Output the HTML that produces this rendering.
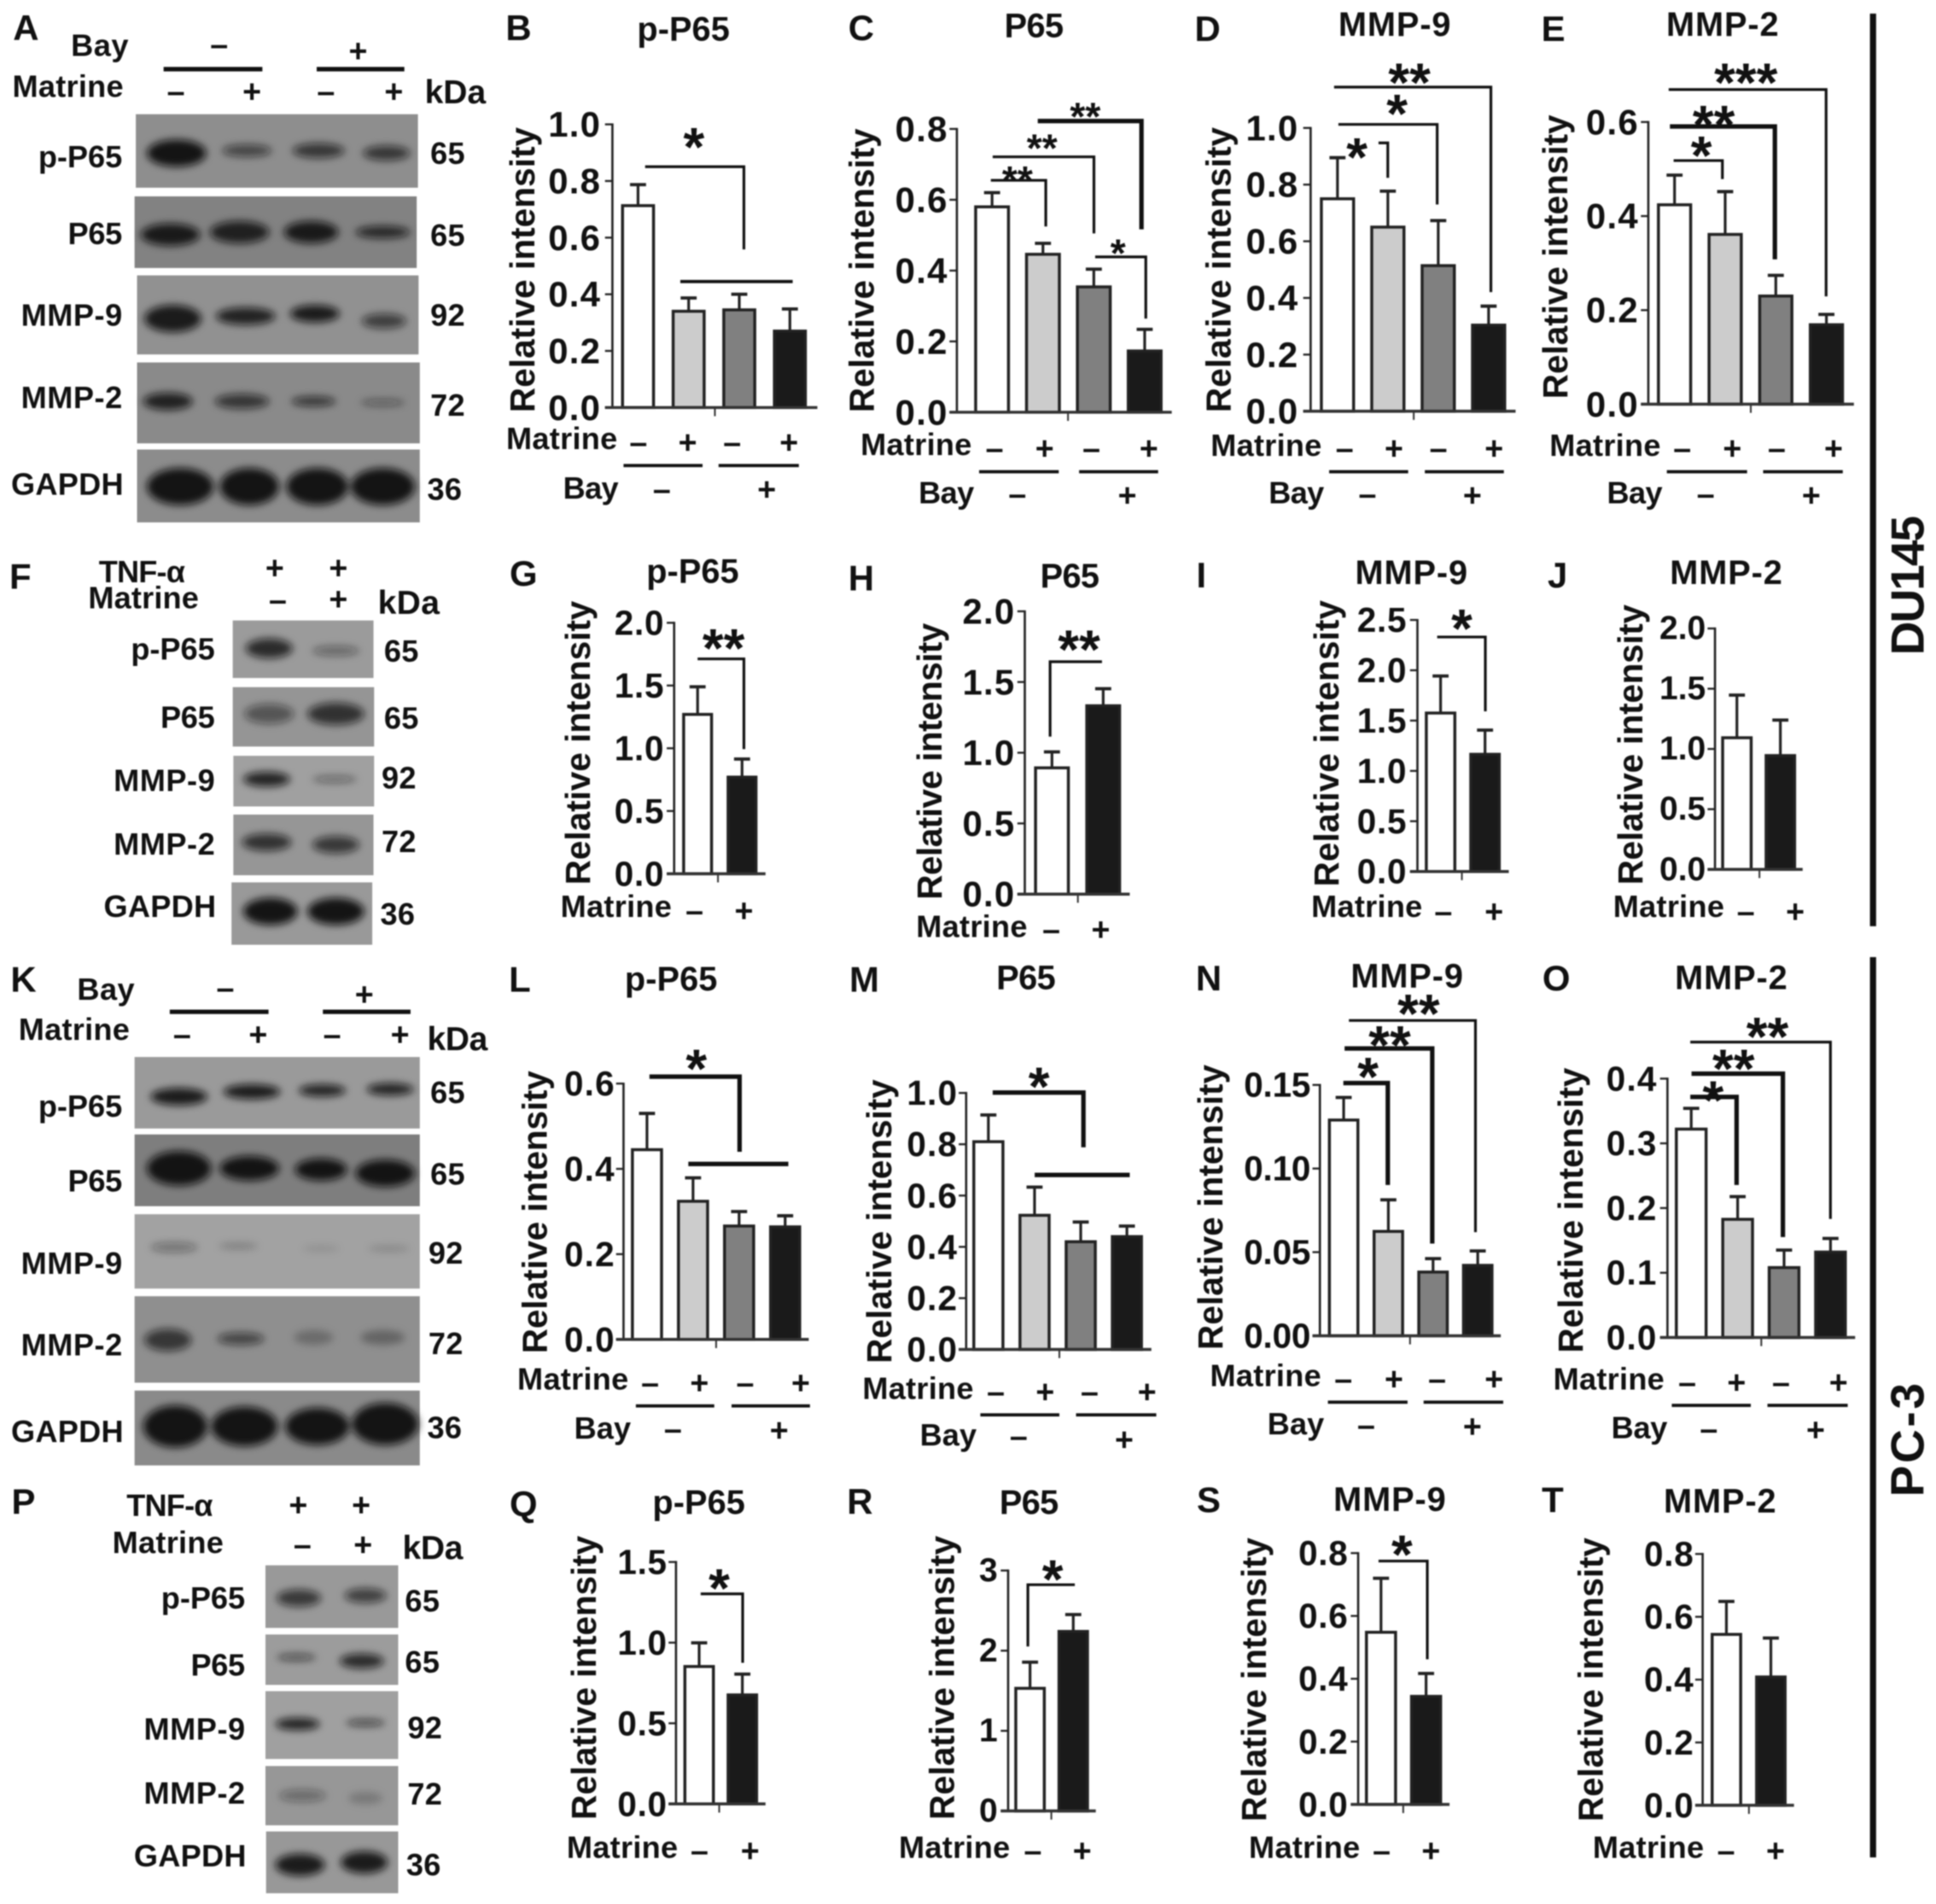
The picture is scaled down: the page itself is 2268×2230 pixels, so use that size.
<!DOCTYPE html>
<html lang="en">
<head>
<meta charset="utf-8">
<title>Matrine western blots and densitometry</title>
<style>
html,body{margin:0;padding:0;background:#fff}
svg{display:block;width:2268px;height:2230px;filter:blur(.7px)}
text{font-family:"Liberation Sans",sans-serif;font-weight:700;fill:#111;dominant-baseline:central}
.pl{font-size:29px}
.ti{font-size:27.5px;text-anchor:middle}
.m{font-size:25px}
.s{font-size:26px;text-anchor:middle}
.yl{font-size:28px;text-anchor:middle}
.bl{font-size:25px;text-anchor:end}
.n{font-size:25px}
.k{font-size:27px}
.st{font-size:44px;text-anchor:middle;dominant-baseline:auto}
.st2{font-size:32px;text-anchor:middle;dominant-baseline:auto}
.cell{font-size:38px;text-anchor:middle}
.br{fill:none;stroke:#111;stroke-width:2.2}
.brt{fill:none;stroke:#111;stroke-width:3.6}
.ln{stroke:#111;stroke-width:2.6}
.lnt{stroke:#111;stroke-width:3.6}
.bands{fill:#111;filter:url(#band-blur)}
</style>
</head>
<body>
<svg viewBox="0 0 1568 1541.73">
<defs><filter id="band-blur" x="-20%" y="-20%" width="140%" height="140%"><feGaussianBlur stdDeviation="3.2"/></filter></defs>

<g>
<text class="pl" x="21" y="22.6" text-anchor="middle">A</text>
<text class="m" x="57.5" y="36.7" textLength="46.5">Bay</text>
<text class="s" x="177.5" y="36">–</text>
<text class="s" x="290" y="41">+</text>
<line class="lnt" x1="132.5" x2="212.5" y1="56" y2="56"/>
<line class="lnt" x1="256.5" x2="327.5" y1="56" y2="56"/>
<text class="m" x="10" y="70" textLength="90">Matrine</text>
<text class="s" x="142.5" y="74">–</text>
<text class="s" x="204" y="74">+</text>
<text class="s" x="264" y="74">–</text>
<text class="s" x="319" y="74">+</text>
<text class="k" x="344" y="75" textLength="49.5">kDa</text>
<rect x="110" y="92.5" width="228.5" height="59.5" fill="#8e8e8e"/>
<rect x="109" y="159" width="228.5" height="58" fill="#828282"/>
<rect x="111" y="223" width="228" height="64" fill="#919191"/>
<rect x="111" y="293.5" width="229" height="65.5" fill="#8a8a8a"/>
<rect x="111" y="364" width="229" height="59" fill="#8c8c8c"/>
<g class="bands">
<ellipse cx="143" cy="124" rx="24" ry="11" opacity=".95"/>
<ellipse cx="200" cy="122" rx="20" ry="5" opacity=".6"/>
<ellipse cx="258" cy="122" rx="21" ry="6" opacity=".7"/>
<ellipse cx="313" cy="124" rx="19" ry="6" opacity=".7"/>
<ellipse cx="138" cy="190" rx="24" ry="9" opacity=".9"/>
<ellipse cx="194" cy="188" rx="24" ry="9" opacity=".85"/>
<ellipse cx="252" cy="188" rx="22" ry="9" opacity=".9"/>
<ellipse cx="310" cy="188" rx="22" ry="5" opacity=".8"/>
<ellipse cx="140" cy="258" rx="23" ry="11" opacity=".9"/>
<ellipse cx="199" cy="256" rx="24" ry="7" opacity=".85"/>
<ellipse cx="255" cy="254" rx="20" ry="7" opacity=".9"/>
<ellipse cx="311" cy="260" rx="18" ry="6" opacity=".65"/>
<ellipse cx="136" cy="325" rx="20" ry="7" opacity=".85"/>
<ellipse cx="196" cy="325" rx="22" ry="6" opacity=".7"/>
<ellipse cx="254" cy="325" rx="18" ry="4" opacity=".7"/>
<ellipse cx="310" cy="326" rx="18" ry="3" opacity=".4"/>
<ellipse cx="146" cy="394" rx="27" ry="15" opacity=".95"/>
<ellipse cx="202" cy="394" rx="24" ry="15" opacity=".95"/>
<ellipse cx="257" cy="394" rx="25" ry="15" opacity=".95"/>
<ellipse cx="310" cy="394" rx="26" ry="15" opacity=".95"/>
</g>
<text class="bl" x="99" y="127" textLength="68">p-P65</text>
<text class="bl" x="99" y="189" textLength="44">P65</text>
<text class="bl" x="99" y="255" textLength="82">MMP-9</text>
<text class="bl" x="99" y="322" textLength="82">MMP-2</text>
<text class="bl" x="100" y="392" textLength="91">GAPDH</text>
<text class="n" x="348.5" y="124" textLength="28">65</text>
<text class="n" x="348.5" y="190.5" textLength="28">65</text>
<text class="n" x="348.5" y="255" textLength="28">92</text>
<text class="n" x="348.5" y="328" textLength="28">72</text>
<text class="n" x="346" y="396" textLength="28">36</text>
</g>

<g>
<text class="pl" x="16.5" y="466.7" text-anchor="middle">F</text>
<text class="m" x="80" y="463" textLength="70">TNF-α</text>
<text class="m" x="71.5" y="484" textLength="89.5">Matrine</text>
<text class="s" x="222.5" y="459.8">+</text>
<text class="s" x="274" y="459.8">+</text>
<text class="s" x="225" y="485.8">–</text>
<text class="s" x="274" y="485">+</text>
<text class="k" x="306" y="488.6" textLength="50">kDa</text>
<rect x="188.5" y="502.4" width="114" height="46.6" fill="#9b9b9b"/>
<rect x="188.5" y="556.4" width="114.5" height="48.1" fill="#959595"/>
<rect x="189" y="612" width="114" height="41" fill="#a0a0a0"/>
<rect x="189" y="659.6" width="113.5" height="49.1" fill="#969696"/>
<rect x="187.5" y="714.5" width="114" height="50.5" fill="#999"/>
<g class="bands">
<ellipse cx="218" cy="525" rx="19" ry="8" opacity=".8"/>
<ellipse cx="272" cy="527" rx="19" ry="4" opacity=".4"/>
<ellipse cx="218" cy="578" rx="20" ry="8" opacity=".5"/>
<ellipse cx="272" cy="578" rx="23" ry="9" opacity=".75"/>
<ellipse cx="216" cy="631" rx="19" ry="6" opacity=".85"/>
<ellipse cx="271" cy="631" rx="18" ry="3" opacity=".4"/>
<ellipse cx="216" cy="682" rx="20" ry="7" opacity=".75"/>
<ellipse cx="272" cy="684" rx="19" ry="7" opacity=".7"/>
<ellipse cx="219" cy="738" rx="22" ry="11" opacity=".95"/>
<ellipse cx="272" cy="738" rx="23" ry="11" opacity=".95"/>
</g>
<text class="bl" x="174" y="525.5" textLength="68">p-P65</text>
<text class="bl" x="174" y="580.8" textLength="44">P65</text>
<text class="bl" x="174" y="632" textLength="82">MMP-9</text>
<text class="bl" x="174" y="683.3" textLength="82">MMP-2</text>
<text class="bl" x="175" y="734" textLength="91">GAPDH</text>
<text class="n" x="311" y="527" textLength="28">65</text>
<text class="n" x="311" y="581.5" textLength="28">65</text>
<text class="n" x="309" y="630" textLength="28">92</text>
<text class="n" x="309" y="681.5" textLength="28">72</text>
<text class="n" x="308" y="740" textLength="28">36</text>
</g>

<g>
<text class="pl" x="19" y="793" text-anchor="middle">K</text>
<text class="m" x="62.5" y="800.8" textLength="46.5">Bay</text>
<text class="s" x="182.5" y="800">–</text>
<text class="s" x="295" y="805">+</text>
<line class="lnt" x1="137.5" x2="217.5" y1="819.3" y2="819.3"/>
<line class="lnt" x1="261.5" x2="332.5" y1="819.3" y2="819.3"/>
<text class="m" x="15" y="833.6" textLength="90">Matrine</text>
<text class="s" x="147.5" y="837.6">–</text>
<text class="s" x="209" y="837.6">+</text>
<text class="s" x="269" y="837.6">–</text>
<text class="s" x="324" y="837.6">+</text>
<text class="k" x="346" y="841.7" textLength="49">kDa</text>
<rect x="109" y="855.9" width="231" height="57.9" fill="#9a9a9a"/>
<rect x="109" y="918.6" width="231" height="58.1" fill="#7e7e7e"/>
<rect x="109" y="983.2" width="231" height="60.2" fill="#a2a2a2"/>
<rect x="109" y="1049.6" width="231" height="70" fill="#8f8f8f"/>
<rect x="109" y="1126" width="231" height="60.6" fill="#8a8a8a"/>
<g class="bands">
<ellipse cx="145" cy="888" rx="23" ry="7" opacity=".9"/>
<ellipse cx="204" cy="884" rx="23" ry="6" opacity=".9"/>
<ellipse cx="261" cy="883" rx="19" ry="5" opacity=".85"/>
<ellipse cx="316" cy="882" rx="19" ry="5" opacity=".85"/>
<ellipse cx="145" cy="946" rx="26" ry="14" opacity=".95"/>
<ellipse cx="202" cy="946" rx="24" ry="10" opacity=".95"/>
<ellipse cx="260" cy="947" rx="21" ry="9" opacity=".95"/>
<ellipse cx="312" cy="950" rx="24" ry="11" opacity=".95"/>
<ellipse cx="141" cy="1010" rx="19" ry="4" opacity=".35"/>
<ellipse cx="193" cy="1009" rx="16" ry="3" opacity=".2"/>
<ellipse cx="260" cy="1011" rx="15" ry="3" opacity=".1"/>
<ellipse cx="315" cy="1011" rx="17" ry="3" opacity=".15"/>
<ellipse cx="136" cy="1085" rx="19" ry="9" opacity=".7"/>
<ellipse cx="195" cy="1084" rx="19" ry="5" opacity=".6"/>
<ellipse cx="254" cy="1083" rx="16" ry="6" opacity=".25"/>
<ellipse cx="310" cy="1083" rx="18" ry="6" opacity=".3"/>
<ellipse cx="142" cy="1155" rx="26" ry="17" opacity=".95"/>
<ellipse cx="198" cy="1155" rx="27" ry="16" opacity=".95"/>
<ellipse cx="257" cy="1155" rx="26" ry="15" opacity=".95"/>
<ellipse cx="312" cy="1153" rx="27" ry="17" opacity=".95"/>
</g>
<text class="bl" x="99" y="895.5" textLength="68">p-P65</text>
<text class="bl" x="99" y="956" textLength="44">P65</text>
<text class="bl" x="99" y="1023" textLength="82">MMP-9</text>
<text class="bl" x="99" y="1089" textLength="82">MMP-2</text>
<text class="bl" x="100" y="1159" textLength="91">GAPDH</text>
<text class="n" x="348.5" y="884.7" textLength="28">65</text>
<text class="n" x="348.5" y="950.6" textLength="28">65</text>
<text class="n" x="347" y="1014.6" textLength="28">92</text>
<text class="n" x="347" y="1087.8" textLength="28">72</text>
<text class="n" x="346" y="1155.9" textLength="28">36</text>
</g>

<g>
<text class="pl" x="19" y="1215.7" text-anchor="middle">P</text>
<text class="m" x="102.5" y="1219" textLength="70">TNF-α</text>
<text class="m" x="91" y="1249" textLength="90">Matrine</text>
<text class="s" x="241.5" y="1218.5">+</text>
<text class="s" x="292.5" y="1218.5">+</text>
<text class="s" x="245" y="1250.7">–</text>
<text class="s" x="294" y="1250.7">+</text>
<text class="k" x="326" y="1253.7" textLength="49">kDa</text>
<rect x="215" y="1267.5" width="107.5" height="50.7" fill="#999"/>
<rect x="215" y="1323.5" width="107.5" height="40.8" fill="#9c9c9c"/>
<rect x="215" y="1369.4" width="107.5" height="54.9" fill="#a0a0a0"/>
<rect x="215" y="1430" width="107.5" height="48" fill="#979797"/>
<rect x="215.5" y="1483" width="107" height="50" fill="#989898"/>
<g class="bands">
<ellipse cx="242" cy="1294" rx="18" ry="7" opacity=".7"/>
<ellipse cx="296" cy="1292" rx="17" ry="6" opacity=".65"/>
<ellipse cx="240" cy="1342" rx="16" ry="3" opacity=".55"/>
<ellipse cx="293" cy="1345" rx="18" ry="6" opacity=".8"/>
<ellipse cx="241" cy="1396" rx="18" ry="5" opacity=".85"/>
<ellipse cx="296" cy="1395" rx="16" ry="3" opacity=".6"/>
<ellipse cx="245" cy="1454" rx="19" ry="5" opacity=".35"/>
<ellipse cx="296" cy="1456" rx="14" ry="5" opacity=".2"/>
<ellipse cx="243" cy="1510" rx="20" ry="9" opacity=".9"/>
<ellipse cx="295" cy="1508" rx="19" ry="9" opacity=".9"/>
</g>
<text class="bl" x="198.5" y="1294" textLength="68">p-P65</text>
<text class="bl" x="198.5" y="1348.2" textLength="44">P65</text>
<text class="bl" x="198.5" y="1400" textLength="82">MMP-9</text>
<text class="bl" x="198.5" y="1452" textLength="82">MMP-2</text>
<text class="bl" x="199.5" y="1502.6" textLength="91">GAPDH</text>
<text class="n" x="328" y="1296.4" textLength="28">65</text>
<text class="n" x="328" y="1345.9" textLength="28">65</text>
<text class="n" x="330" y="1399" textLength="28">92</text>
<text class="n" x="330" y="1452.4" textLength="28">72</text>
<text class="n" x="329" y="1510" textLength="28">36</text>
</g>

<!-- Bar panels: axes, bars and tick labels are drawn by the script into these groups -->
<g id="chart-b"></g>
<g id="chart-c"></g>
<g id="chart-d"></g>
<g id="chart-e"></g>
<g id="chart-g"></g>
<g id="chart-h"></g>
<g id="chart-i"></g>
<g id="chart-j"></g>
<g id="chart-l"></g>
<g id="chart-m"></g>
<g id="chart-n"></g>
<g id="chart-o"></g>
<g id="chart-q"></g>
<g id="chart-r"></g>
<g id="chart-s"></g>
<g id="chart-t"></g>

<g>
<text class="pl" x="420" y="22.6" text-anchor="middle">B</text>
<text class="ti" x="553.5" y="24" textLength="75">p-P65</text>
<text class="yl" x="423" y="218.5" textLength="231" transform="rotate(-90 423 218.5)">Relative intensity</text>
<text class="m" x="410" y="355" textLength="90">Matrine</text>
<text class="s" x="517" y="358">–</text>
<text class="s" x="557" y="358">+</text>
<text class="s" x="593" y="358">–</text>
<text class="s" x="639" y="358">+</text>
<line class="ln" x1="505" x2="569" y1="377" y2="377"/>
<line class="ln" x1="582" x2="647" y1="377" y2="377"/>
<text class="m" x="456" y="395" textLength="45">Bay</text>
<text class="s" x="536" y="396">–</text>
<text class="s" x="621" y="396">+</text>
<path class="br" d="M522.5 135H602.5V202"/>
<line class="ln" x1="551" x2="642" y1="228" y2="228"/>
<text class="st" x="562" y="134">*</text>
</g>

<g>
<text class="pl" x="697.5" y="22.6" text-anchor="middle">C</text>
<text class="ti" x="837.5" y="21" textLength="48">P65</text>
<text class="yl" x="698" y="219" textLength="230" transform="rotate(-90 698 219)">Relative intensity</text>
<text class="m" x="697" y="360" textLength="90">Matrine</text>
<text class="s" x="805.5" y="363">–</text>
<text class="s" x="846" y="363">+</text>
<text class="s" x="884" y="363">–</text>
<text class="s" x="930.5" y="363">+</text>
<line class="ln" x1="793" x2="857.5" y1="382" y2="382"/>
<line class="ln" x1="874" x2="938" y1="382" y2="382"/>
<text class="m" x="744" y="399" textLength="45">Bay</text>
<text class="s" x="824" y="400">–</text>
<text class="s" x="913" y="401">+</text>
<path class="br" d="M802.5 146H847V183.4"/>
<path class="br" d="M804 127H886V189"/>
<path class="brt" d="M840.5 98H924.5V185.7"/>
<path class="br" d="M887 208H928V258"/>
<text class="st2" x="824" y="157">**</text>
<text class="st2" x="844" y="131">**</text>
<text class="st2" x="879" y="105.5">**</text>
<text class="st2" x="905.5" y="216">*</text>
</g>

<g>
<text class="pl" x="978" y="23" text-anchor="middle">D</text>
<text class="ti" x="1129.5" y="20" textLength="91">MMP-9</text>
<text class="yl" x="987" y="218.5" textLength="231" transform="rotate(-90 987 218.5)">Relative intensity</text>
<text class="m" x="980.5" y="360.6" textLength="90">Matrine</text>
<text class="s" x="1089" y="363">–</text>
<text class="s" x="1129" y="363">+</text>
<text class="s" x="1165" y="363">–</text>
<text class="s" x="1210" y="363">+</text>
<line class="ln" x1="1076.5" x2="1140.5" y1="382" y2="382"/>
<line class="ln" x1="1154" x2="1218" y1="382" y2="382"/>
<text class="m" x="1027.5" y="399" textLength="45">Bay</text>
<text class="s" x="1107.5" y="400">–</text>
<text class="s" x="1192.5" y="401">+</text>
<path class="br" d="M1080.5 70.5H1207.5V236.5"/>
<path class="br" d="M1084 100.7H1164V165.6"/>
<path class="br" d="M1116.5 115.7H1124V144"/>
<text class="st" x="1141.5" y="82">**</text>
<text class="st" x="1131.5" y="107">*</text>
<text class="st" x="1099" y="142.5">*</text>
</g>

<g>
<text class="pl" x="1258" y="23" text-anchor="middle">E</text>
<text class="ti" x="1395" y="20" textLength="91">MMP-2</text>
<text class="yl" x="1259.5" y="208" textLength="230" transform="rotate(-90 1259.5 208)">Relative intensity</text>
<text class="m" x="1255" y="360.6" textLength="90">Matrine</text>
<text class="s" x="1362.5" y="363">–</text>
<text class="s" x="1403" y="363">+</text>
<text class="s" x="1439" y="363">–</text>
<text class="s" x="1485" y="363">+</text>
<line class="ln" x1="1350" x2="1415" y1="382" y2="382"/>
<line class="ln" x1="1428" x2="1492.5" y1="382" y2="382"/>
<text class="m" x="1301.5" y="399" textLength="45">Bay</text>
<text class="s" x="1381.5" y="400">–</text>
<text class="s" x="1467" y="401">+</text>
<path class="br" d="M1351.5 72.5H1479V240"/>
<path class="brt" d="M1352.5 102.4H1437.5V210"/>
<path class="br" d="M1355.5 130H1395V145"/>
<text class="st" x="1414" y="82">***</text>
<text class="st" x="1388" y="116">**</text>
<text class="st" x="1378" y="141">*</text>
</g>

<g>
<text class="pl" x="424" y="464.4" text-anchor="middle">G</text>
<text class="ti" x="561" y="463" textLength="75">p-P65</text>
<text class="yl" x="468" y="601.5" textLength="230" transform="rotate(-90 468 601.5)">Relative intensity</text>
<text class="m" x="454" y="734" textLength="90">Matrine</text>
<text class="s" x="562.5" y="737.5">–</text>
<text class="s" x="602.5" y="737.5">+</text>
<path class="br" d="M565 533.5H602.5V606.6"/>
<text class="st" x="586" y="540">**</text>
</g>

<g>
<text class="pl" x="697.5" y="467.9" text-anchor="middle">H</text>
<text class="ti" x="866.5" y="466.7" textLength="48">P65</text>
<text class="yl" x="753" y="616.5" textLength="224" transform="rotate(-90 753 616.5)">Relative intensity</text>
<text class="m" x="742" y="750" textLength="90">Matrine</text>
<text class="s" x="851.5" y="752.5">–</text>
<text class="s" x="891.5" y="752.5">+</text>
<path class="br" d="M850.5 596.5V535.8H892.5"/>
<text class="st" x="874" y="541">**</text>
</g>

<g>
<text class="pl" x="973" y="465.5" text-anchor="middle">I</text>
<text class="ti" x="1143" y="464" textLength="91">MMP-9</text>
<text class="yl" x="1074.5" y="602" textLength="232" transform="rotate(-90 1074.5 602)">Relative intensity</text>
<text class="m" x="1062" y="734" textLength="90">Matrine</text>
<text class="s" x="1169" y="738">–</text>
<text class="s" x="1210" y="738">+</text>
<path class="br" d="M1164 515.8H1203V576"/>
<text class="st" x="1184" y="524">*</text>
</g>

<g>
<text class="pl" x="1261.5" y="465.5" text-anchor="middle">J</text>
<text class="ti" x="1398" y="464" textLength="91">MMP-2</text>
<text class="yl" x="1320.5" y="603" textLength="227" transform="rotate(-90 1320.5 603)">Relative intensity</text>
<text class="m" x="1306.5" y="734" textLength="90">Matrine</text>
<text class="s" x="1414" y="738">–</text>
<text class="s" x="1454" y="738">+</text>
</g>

<g>
<text class="pl" x="421" y="793" text-anchor="middle">L</text>
<text class="ti" x="543.5" y="793" textLength="75">p-P65</text>
<text class="yl" x="433" y="981.5" textLength="229" transform="rotate(-90 433 981.5)">Relative intensity</text>
<text class="m" x="419" y="1116.6" textLength="90">Matrine</text>
<text class="s" x="526.5" y="1119.6">–</text>
<text class="s" x="566.5" y="1119.6">+</text>
<text class="s" x="603.5" y="1119.6">–</text>
<text class="s" x="648.5" y="1119.6">+</text>
<line class="ln" x1="515" x2="578.5" y1="1138.4" y2="1138.4"/>
<line class="ln" x1="592.5" x2="656" y1="1138.4" y2="1138.4"/>
<text class="m" x="465" y="1156.4" textLength="46">Bay</text>
<text class="s" x="545" y="1157">–</text>
<text class="s" x="631" y="1158">+</text>
<path class="brt" d="M526 871.8H599V932.6"/>
<line class="lnt" x1="557.5" x2="638.5" y1="942.5" y2="942.5"/>
<text class="st" x="564" y="880.5">*</text>
</g>

<g>
<text class="pl" x="700" y="793" text-anchor="middle">M</text>
<text class="ti" x="831" y="791.9" textLength="48">P65</text>
<text class="yl" x="712" y="989" textLength="230" transform="rotate(-90 712 989)">Relative intensity</text>
<text class="m" x="698.5" y="1124" textLength="90">Matrine</text>
<text class="s" x="806.5" y="1127">–</text>
<text class="s" x="846.5" y="1127">+</text>
<text class="s" x="882.5" y="1127">–</text>
<text class="s" x="929" y="1127">+</text>
<line class="ln" x1="794" x2="858" y1="1145.7" y2="1145.7"/>
<line class="ln" x1="871.5" x2="936.5" y1="1145.7" y2="1145.7"/>
<text class="m" x="745" y="1161.8" textLength="46">Bay</text>
<text class="s" x="825" y="1163">–</text>
<text class="s" x="910.5" y="1165.8">+</text>
<path class="brt" d="M804 884.7H877.5V929"/>
<line class="lnt" x1="838" x2="915" y1="951.4" y2="951.4"/>
<text class="st" x="841.5" y="895">*</text>
</g>

<g>
<text class="pl" x="979" y="791.9" text-anchor="middle">N</text>
<text class="ti" x="1139.5" y="790.5" textLength="91">MMP-9</text>
<text class="yl" x="980.5" y="977.5" textLength="231" transform="rotate(-90 980.5 977.5)">Relative intensity</text>
<text class="m" x="980" y="1113.9" textLength="90">Matrine</text>
<text class="s" x="1088" y="1116.6">–</text>
<text class="s" x="1129" y="1116.6">+</text>
<text class="s" x="1164" y="1116.6">–</text>
<text class="s" x="1210" y="1116.6">+</text>
<line class="ln" x1="1075.5" x2="1140" y1="1135.4" y2="1135.4"/>
<line class="ln" x1="1153" x2="1217.5" y1="1135.4" y2="1135.4"/>
<text class="m" x="1026.5" y="1153" textLength="46">Bay</text>
<text class="s" x="1106.5" y="1154">–</text>
<text class="s" x="1192.5" y="1155">+</text>
<path class="br" d="M1092.5 826.3H1195V997.7"/>
<path class="brt" d="M1089 849H1160V1007"/>
<path class="brt" d="M1088 877H1124V959.5"/>
<text class="st" x="1149" y="836">**</text>
<text class="st" x="1125.5" y="861.5">**</text>
<text class="st" x="1108" y="887">*</text>
</g>

<g>
<text class="pl" x="1260.5" y="791.9" text-anchor="middle">O</text>
<text class="ti" x="1402" y="791.9" textLength="91">MMP-2</text>
<text class="yl" x="1272" y="980" textLength="231" transform="rotate(-90 1272 980)">Relative intensity</text>
<text class="m" x="1258" y="1116.6" textLength="90">Matrine</text>
<text class="s" x="1366.5" y="1119.3">–</text>
<text class="s" x="1406.5" y="1119.3">+</text>
<text class="s" x="1442.5" y="1119.3">–</text>
<text class="s" x="1489" y="1119.3">+</text>
<line class="ln" x1="1354" x2="1418" y1="1138" y2="1138"/>
<line class="ln" x1="1431.5" x2="1496.5" y1="1138" y2="1138"/>
<text class="m" x="1305" y="1155.9" textLength="45.5">Bay</text>
<text class="s" x="1384" y="1157">–</text>
<text class="s" x="1470.5" y="1157.8">+</text>
<path class="br" d="M1369 843.8H1482.5V987"/>
<path class="brt" d="M1370 869.4H1444V1001.7"/>
<path class="brt" d="M1369 888.2H1406.5V959.5"/>
<text class="st" x="1431.5" y="854.5">**</text>
<text class="st" x="1404" y="880.5">**</text>
<text class="st" x="1387.5" y="906">*</text>
</g>

<g>
<text class="pl" x="424" y="1218" text-anchor="middle">Q</text>
<text class="ti" x="566" y="1216.8" textLength="75">p-P65</text>
<text class="yl" x="473" y="1358.5" textLength="230" transform="rotate(-90 473 1358.5)">Relative intensity</text>
<text class="m" x="459" y="1495.7" textLength="90">Matrine</text>
<text class="s" x="566.5" y="1498.5">–</text>
<text class="s" x="607.5" y="1498.5">+</text>
<path class="br" d="M567.5 1290.6H601.5V1346.4"/>
<text class="st" x="582.5" y="1301">*</text>
</g>

<g>
<text class="pl" x="696.5" y="1215.7" text-anchor="middle">R</text>
<text class="ti" x="833.5" y="1216.8" textLength="48">P65</text>
<text class="yl" x="763" y="1358.5" textLength="230" transform="rotate(-90 763 1358.5)">Relative intensity</text>
<text class="m" x="728" y="1495.7" textLength="90">Matrine</text>
<text class="s" x="836.5" y="1498.5">–</text>
<text class="s" x="876.5" y="1498.5">+</text>
<path class="br" d="M832.5 1333.2V1283.2H870.5"/>
<text class="st" x="852.5" y="1294">*</text>
</g>

<g>
<text class="pl" x="979" y="1214.5" text-anchor="middle">S</text>
<text class="ti" x="1125.5" y="1214.5" textLength="91">MMP-9</text>
<text class="yl" x="1015.5" y="1360" textLength="230" transform="rotate(-90 1015.5 1360)">Relative intensity</text>
<text class="m" x="1011.5" y="1495.7" textLength="90">Matrine</text>
<text class="s" x="1119" y="1498.5">–</text>
<text class="s" x="1159" y="1498.5">+</text>
<path class="br" d="M1116.5 1264H1156V1343.6"/>
<text class="st" x="1135.5" y="1274">*</text>
</g>

<g>
<text class="pl" x="1257.5" y="1214.5" text-anchor="middle">T</text>
<text class="ti" x="1393" y="1215.7" textLength="91">MMP-2</text>
<text class="yl" x="1288.5" y="1360" textLength="230" transform="rotate(-90 1288.5 1360)">Relative intensity</text>
<text class="m" x="1290" y="1495.7" textLength="90">Matrine</text>
<text class="s" x="1398" y="1498.5">–</text>
<text class="s" x="1438" y="1498.5">+</text>
</g>

<g>
<rect x="1514.5" y="11" width="5" height="739" fill="#111"/>
<rect x="1514.5" y="775" width="5" height="729" fill="#111"/>
<text class="cell" x="1545" y="474" textLength="113" transform="rotate(-90 1545 474)">DU145</text>
<text class="cell" x="1545" y="1166" textLength="92" transform="rotate(-90 1545 1166)">PC-3</text>
</g>
</svg>

<script>
const groupCategories = ['Bay- Matrine-', 'Bay- Matrine+', 'Bay+ Matrine-', 'Bay+ Matrine+'];
const pairCategories = ['Matrine-', 'Matrine+'];

const bValues = [0.713, 0.34, 0.345, 0.27];
const bErrors = [0.074, 0.047, 0.055, 0.078];
const bTicks = ['0.0', '0.2', '0.4', '0.6', '0.8', '1.0'];

const cValues = [0.58, 0.446, 0.354, 0.173];
const cErrors = [0.04, 0.031, 0.05, 0.061];
const cTicks = ['0.0', '0.2', '0.4', '0.6', '0.8'];

const dValues = [0.75, 0.65, 0.514, 0.304];
const dErrors = [0.145, 0.127, 0.159, 0.067];
const dTicks = ['0.0', '0.2', '0.4', '0.6', '0.8', '1.0'];

const eValues = [0.424, 0.361, 0.23, 0.169];
const eErrors = [0.063, 0.091, 0.044, 0.022];
const eTicks = ['0.0', '0.2', '0.4', '0.6'];

const gValues = [1.27, 0.77];
const gErrors = [0.22, 0.144];
const gTicks = ['0.0', '0.5', '1.0', '1.5', '2.0'];

const hValues = [0.893, 1.332];
const hErrors = [0.113, 0.121];
const hTicks = ['0.0', '0.5', '1.0', '1.5', '2.0'];

const iValues = [1.575, 1.165];
const iErrors = [0.368, 0.24];
const iTicks = ['0.0', '0.5', '1.0', '1.5', '2.0', '2.5'];

const jValues = [1.093, 0.945];
const jErrors = [0.354, 0.295];
const jTicks = ['0.0', '0.5', '1.0', '1.5', '2.0'];

const lValues = [0.445, 0.324, 0.266, 0.264];
const lErrors = [0.085, 0.055, 0.034, 0.026];
const lTicks = ['0.0', '0.2', '0.4', '0.6'];

const mValues = [0.81, 0.523, 0.42, 0.44];
const mErrors = [0.104, 0.11, 0.077, 0.041];
const mTicks = ['0.0', '0.2', '0.4', '0.6', '0.8', '1.0'];

const nValues = [0.129, 0.0624, 0.0381, 0.0421];
const nErrors = [0.0135, 0.0189, 0.008, 0.0086];
const nTicks = ['0.00', '0.05', '0.10', '0.15'];

const oValues = [0.322, 0.1826, 0.108, 0.132];
const oErrors = [0.032, 0.035, 0.027, 0.021];
const oTicks = ['0.0', '0.1', '0.2', '0.3', '0.4'];

const qValues = [0.852, 0.676];
const qErrors = [0.147, 0.129];
const qTicks = ['0.0', '0.5', '1.0', '1.5'];

const rValues = [1.53, 2.24];
const rErrors = [0.327, 0.21];
const rTicks = ['0', '1', '2', '3'];

const sValues = [0.548, 0.344];
const sErrors = [0.172, 0.073];
const sTicks = ['0.0', '0.2', '0.4', '0.6', '0.8'];

const tValues = [0.544, 0.4085];
const tErrors = [0.105, 0.124];
const tTicks = ['0.0', '0.2', '0.4', '0.6', '0.8'];

const SVG_NS = 'http://www.w3.org/2000/svg';

function make(parent, tag, name, attrs) {
  const el = document.createElementNS(SVG_NS, tag);
  
  
  Object.keys(attrs).forEach(function (k) { el.setAttribute(k, attrs[k]); });
  parent.appendChild(el);
  return el;
}

function drawChart(cfg) {
  const root = document.getElementById(cfg.id);
  const four = cfg.values.length === 4;
  const fills = four ? ['#fff', '#ccc', '#808080', '#1a1a1a'] : ['#fff', '#1a1a1a'];
  const maxTick = parseFloat(cfg.ticks[cfg.ticks.length - 1]);
  const yScale = function (v) { return cfg.yZero - (v / maxTick) * (cfg.yZero - cfg.yTop); };
  const xBand = function (i) { return cfg.barStart + i * cfg.barStep; };

  make(root, 'line', 'y-axis', {x1: cfg.axisX, x2: cfg.axisX, y1: cfg.yTop - 0.8, y2: cfg.yZero, stroke: '#222', 'stroke-width': 1.8});
  cfg.ticks.forEach(function (label) {
    const v = parseFloat(label);
    make(root, 'line', 'y-tick', {x1: cfg.axisX - 6, x2: cfg.axisX, y1: yScale(v), y2: yScale(v), stroke: '#222', 'stroke-width': 1.6});
    const t = make(root, 'text', 'y-tick-label', {x: cfg.tickEnd, y: yScale(v), 'text-anchor': 'end', textLength: cfg.tickLen * label.length, style: 'font-size:' + cfg.tickFont + 'px'});
    t.textContent = label;
  });

  cfg.values.forEach(function (v, i) {
    const bx = xBand(i);
    const cx = bx + cfg.barWidth / 2;
    make(root, 'line', 'error-bar', {x1: cx, x2: cx, y1: yScale(v), y2: yScale(v + cfg.errors[i]), stroke: '#222', 'stroke-width': 2.2});
    make(root, 'line', 'error-cap', {x1: cx - 6.5, x2: cx + 6.5, y1: yScale(v + cfg.errors[i]), y2: yScale(v + cfg.errors[i]), stroke: '#222', 'stroke-width': 2.6});
    make(root, 'rect', 'bar-' + cfg.categories[i].toLowerCase().replace(/ /g, '-'), {x: bx + 1.2, y: yScale(v), width: cfg.barWidth - 2.4, height: cfg.yZero - yScale(v), fill: fills[i], stroke: '#222', 'stroke-width': 2.4});
  });

  make(root, 'line', 'x-axis', {x1: cfg.axisX - 6, x2: cfg.xEnd, y1: cfg.yZero, y2: cfg.yZero, stroke: '#333', 'stroke-width': 2.4});
  make(root, 'line', 'x-tick', {x1: cfg.midTick, x2: cfg.midTick, y1: cfg.yZero, y2: cfg.yZero + 7, stroke: '#333', 'stroke-width': 1.4});
}

drawChart({id: 'chart-b', values: bValues, errors: bErrors, ticks: bTicks, categories: groupCategories, axisX: 496, yTop: 100.7, yZero: 330, xEnd: 662, midTick: 579, barStart: 503, barWidth: 27.5, barStep: 41, tickEnd: 486, tickLen: 14, tickFont: 29});
drawChart({id: 'chart-c', values: cValues, errors: cErrors, ticks: cTicks, categories: groupCategories, axisX: 775, yTop: 104.4, yZero: 333.8, xEnd: 949, midTick: 865, barStart: 789, barWidth: 29, barStep: 41.2, tickEnd: 767, tickLen: 14, tickFont: 29});
drawChart({id: 'chart-d', values: dValues, errors: dErrors, ticks: dTicks, categories: groupCategories, axisX: 1061.5, yTop: 103.6, yZero: 333, xEnd: 1227.5, midTick: 1145, barStart: 1069, barWidth: 28.5, barStep: 40.8, tickEnd: 1051, tickLen: 14, tickFont: 29});
drawChart({id: 'chart-e', values: eValues, errors: eErrors, ticks: eTicks, categories: groupCategories, axisX: 1335, yTop: 98.8, yZero: 327.3, xEnd: 1501.5, midTick: 1418, barStart: 1342, barWidth: 28.5, barStep: 41, tickEnd: 1326.5, tickLen: 14, tickFont: 29});
drawChart({id: 'chart-g', values: gValues, errors: gErrors, ticks: gTicks, categories: pairCategories, axisX: 546, yTop: 504.3, yZero: 707.5, xEnd: 620, midTick: 581.5, barStart: 552.5, barWidth: 25, barStep: 36, tickEnd: 537.5, tickLen: 13.3, tickFont: 28});
drawChart({id: 'chart-h', values: hValues, errors: hErrors, ticks: hTicks, categories: pairCategories, axisX: 830, yTop: 495, yZero: 724, xEnd: 915, midTick: 873, barStart: 837.5, barWidth: 29, barStep: 41.5, tickEnd: 821.5, tickLen: 14, tickFont: 29});
drawChart({id: 'chart-i', values: iValues, errors: iErrors, ticks: iTicks, categories: pairCategories, axisX: 1148, yTop: 502, yZero: 705.7, xEnd: 1222, midTick: 1184, barStart: 1154, barWidth: 25.5, barStep: 36, tickEnd: 1139, tickLen: 13.3, tickFont: 28});
drawChart({id: 'chart-j', values: jValues, errors: jErrors, ticks: jTicks, categories: pairCategories, axisX: 1389, yTop: 508.9, yZero: 704, xEnd: 1460, midTick: 1425, barStart: 1394, barWidth: 25.5, barStep: 35.2, tickEnd: 1381.5, tickLen: 12.5, tickFont: 27});
drawChart({id: 'chart-l', values: lValues, errors: lErrors, ticks: lTicks, categories: groupCategories, axisX: 505, yTop: 877.4, yZero: 1084.6, xEnd: 655, midTick: 580, barStart: 511, barWidth: 26, barStep: 37.3, tickEnd: 497.5, tickLen: 13.5, tickFont: 28});
drawChart({id: 'chart-m', values: mValues, errors: mErrors, ticks: mTicks, categories: groupCategories, axisX: 782.5, yTop: 885, yZero: 1092.7, xEnd: 932.5, midTick: 858, barStart: 787.5, barWidth: 26, barStep: 37.4, tickEnd: 775, tickLen: 13.5, tickFont: 28});
drawChart({id: 'chart-n', values: nValues, errors: nErrors, ticks: nTicks, categories: groupCategories, axisX: 1069, yTop: 878.5, yZero: 1081.6, xEnd: 1215.5, midTick: 1142, barStart: 1075.5, barWidth: 25.5, barStep: 36.2, tickEnd: 1061.5, tickLen: 13.5, tickFont: 28});
drawChart({id: 'chart-o', values: oValues, errors: oErrors, ticks: oTicks, categories: groupCategories, axisX: 1350.5, yTop: 873.4, yZero: 1083, xEnd: 1502.5, midTick: 1426.5, barStart: 1356.5, barWidth: 26.5, barStep: 37.6, tickEnd: 1341.5, tickLen: 13.5, tickFont: 28});
drawChart({id: 'chart-q', values: qValues, errors: qErrors, ticks: qTicks, categories: pairCategories, axisX: 547.5, yTop: 1264.8, yZero: 1460.7, xEnd: 620, midTick: 582.5, barStart: 553.5, barWidth: 25.5, barStep: 35, tickEnd: 540, tickLen: 13.3, tickFont: 28});
drawChart({id: 'chart-r', values: rValues, errors: rErrors, ticks: rTicks, categories: pairCategories, axisX: 816.5, yTop: 1271.7, yZero: 1466.4, xEnd: 887.5, midTick: 851.5, barStart: 821.5, barWidth: 25.5, barStep: 35, tickEnd: 808, tickLen: 14, tickFont: 27});
drawChart({id: 'chart-s', values: sValues, errors: sErrors, ticks: sTicks, categories: pairCategories, axisX: 1100, yTop: 1257.6, yZero: 1461.1, xEnd: 1174, midTick: 1136.5, barStart: 1105.5, barWidth: 26, barStep: 36.5, tickEnd: 1091.5, tickLen: 13.3, tickFont: 28});
drawChart({id: 'chart-t', values: tValues, errors: tErrors, ticks: tTicks, categories: pairCategories, axisX: 1379, yTop: 1258.3, yZero: 1461.8, xEnd: 1453, midTick: 1416.5, barStart: 1385.5, barWidth: 25.5, barStep: 36, tickEnd: 1371.5, tickLen: 13.3, tickFont: 28});
</script>
</body>
</html>
